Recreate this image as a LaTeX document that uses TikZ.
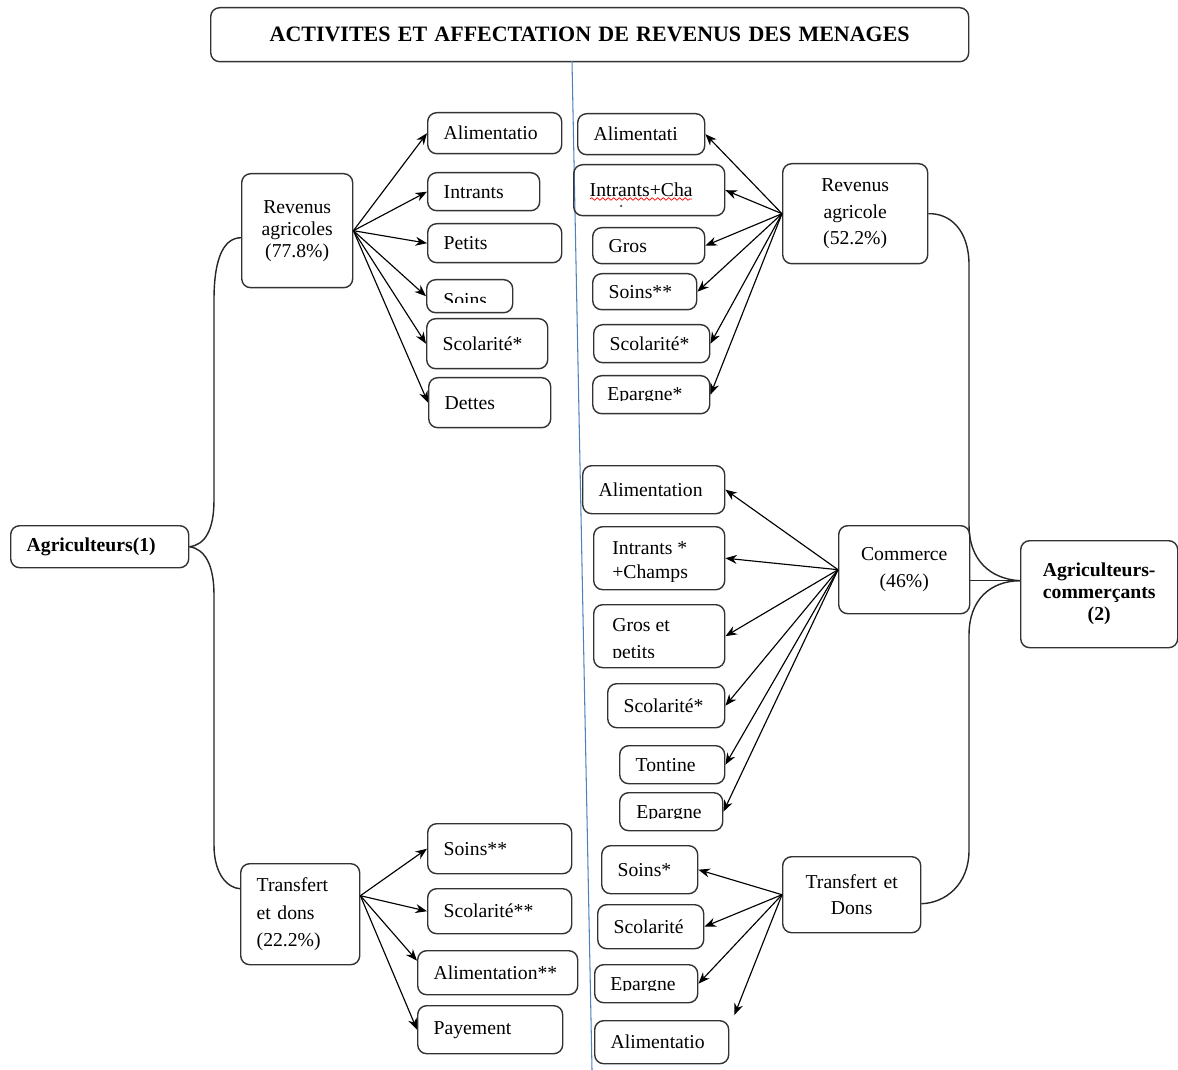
\documentclass[tikz,border=0pt]{standalone}
\usepackage{fontspec}
\setmainfont{Liberation Serif}
\usetikzlibrary{arrows.meta,decorations.pathmorphing}
\definecolor{sepblue}{RGB}{79,129,189}

\tikzset{
  box/.style={draw=black!80, line width=0.8pt, rounded corners=1.8mm,
    anchor=north west, inner xsep=3.2mm, inner ysep=0pt, align=left,
    font=\fontsize{11.2}{15}\selectfont},
  mid/.style={align=center},
  tight/.style={font=\fontsize{11.2}{12.5}\selectfont},
  wh/.code 2 args={%
    \pgfmathsetlengthmacro\boxw{#1*0.2mm-6.4mm}%
    \pgfmathsetlengthmacro\boxh{#2*0.2mm}%
    \edef\tmpwh{\noexpand\tikzset{text width=\boxw, minimum height=\boxh}}\tmpwh},
  txt/.style={anchor=base west, inner sep=0pt, font=\fontsize{11.2}{13}\selectfont},
  arr/.style={-{Stealth[length=2.3mm,width=1.8mm]}, line width=0.65pt},
  brace/.style={line width=0.8pt, black!85},
}

\begin{document}
\begin{tikzpicture}[x=0.2mm, y=-0.2mm]
  \useasboundingbox (0,0) rectangle (1178,1070);

  %% Title and separator
  \node[box, wh={758}{54}, mid, font=\fontsize{12.5}{15}\bfseries] (title) at (210,7)
    {ACTIVITES ET AFFECTATION DE REVENUS DES MENAGES};
  \draw[sepblue, line width=0.6pt] (572,61) -- (592,1070);

  %% ── Agriculteurs (1) ─────────────────────────────────────
  \node[box, wh={178}{42}, font=\fontsize{11.2}{15}\bfseries] (agr) at (10,525) {Agriculteurs(1)};
  \node[box, wh={111}{114}, mid, tight] (rag) at (241,173) {Revenus\\agricoles\\(77.8\%)};
  \node[box, wh={119}{101}, font=\fontsize{11.2}{15.9}\selectfont] (tdl) at (240,863)
    {Transfert\\et dons\\(22.2\%)};

  %% revenus agricoles
  \node[box, wh={134}{41}] (la1) at (427,112) {Alimentatio};
  \node[box, wh={112}{38}] (la2) at (427,172) {Intrants};
  \node[box, wh={134}{39}] (la3) at (427,223) {Petits};
  \node[box, wh={86}{33}]  (la4) at (426,279) {};
  \node[box, wh={121}{50}] (la5) at (426,318) {Scolarité*};
  \node[box, wh={122}{50}] (la6) at (428,377) {Dettes};
  \begin{scope}
    \clip (426,279) rectangle (512,303);
    \node[txt] (la4t) at (443,307) {Soins};
  \end{scope}

  %% transferts et dons
  \node[box, wh={144}{50}] (lb1) at (427,823) {Soins**};
  \node[box, wh={144}{45}] (lb2) at (427,888) {Scolarité**};
  \node[box, wh={160}{44}] (lb3) at (417,950) {Alimentation**};
  \node[box, wh={145}{48}] (lb4) at (417,1005) {Payement};

  \foreach \t in {la1,la2,la3,la4,la5,la6}
    \draw[arr] (rag.east) -- (\t.west);
  \foreach \t in {lb1,lb2,lb4}
    \draw[arr] ([yshift=3.7mm]tdl.east) -- (\t.west);
  \draw[arr] ([yshift=3.7mm]tdl.east) -- ([yshift=2.4mm]lb3.west);

  \draw[brace] (agr.east) .. controls (205,545) and (214,530) .. (214,500)
    -- (214,300) .. controls (214,255) and (225,238) .. ([yshift=-1.4mm]rag.west);
  \draw[brace] (agr.east) .. controls (205,549) and (214,565) .. (214,595)
    -- (214,845) .. controls (214,875) and (228,888) .. ([yshift=5.1mm]tdl.west);

  %% ── Agriculteurs-commerçants (2) ─────────────────────────
  \node[box, wh={157}{107}, mid, font=\fontsize{11.2}{12.5}\bfseries] (agc) at (1020,540)
    {Agriculteurs-\\commerçants\\(2)};
  \node[box, wh={145}{100}, mid] (rar) at (782,163) {Revenus\\agricole\\(52.2\%)};
  \node[box, wh={131}{88}, mid]  (com) at (838,525) {Commerce\\(46\%)};
  \node[box, wh={138}{76}, mid]  (tdr) at (782,856) {Transfert et\\Dons};

  %% revenus agricoles
  \node[box, wh={127}{41}] (ra1) at (577,113) {Alimentati};
  \node[box, wh={151}{51}] (ra2) at (573,164) {Intrants+Cha};
  \node[box, wh={112}{36}] (ra3) at (592,227) {Gros};
  \node[box, wh={104}{36}] (ra4) at (592,273) {Soins**};
  \node[box, wh={116}{38}] (ra5) at (593,324) {Scolarité*};
  \node[box, wh={117}{38}] (ra6) at (592,375) {};
  \draw[red, line width=0.4pt, decorate,
    decoration={snake, segment length=1.1mm, amplitude=0.25mm}] (590,199) -- (692,199);
  \fill[black!70] (621,206) circle (0.25mm);
  \begin{scope}
    \clip (592,375) rectangle (709,401);
    \node[txt] (ra6t) at (607,401) {Epargne*};
  \end{scope}

  %% commerce
  \node[box, wh={142}{48}] (rc1) at (582,465) {Alimentation};
  \node[box, wh={131}{63}] (rc2) at (593,526) {};
  \node[box, wh={131}{63}] (rc3) at (593,604) {};
  \node[box, wh={117}{44}] (rc4) at (607,683) {Scolarité*};
  \node[box, wh={105}{38}] (rc5) at (619,745) {Tontine};
  \node[box, wh={103}{38}] (rc6) at (619,792) {};
  \begin{scope}
    \clip (593,526) rectangle (724,581);
    \node[txt] (rc2a) at (612,554) {Intrants *};
    \node[txt] (rc2b) at (612,578) {+Champs};
  \end{scope}
  \begin{scope}
    \clip (593,604) rectangle (724,657);
    \node[txt] (rc3a) at (612,631) {Gros et};
    \node[txt] (rc3b) at (612,658) {petits};
  \end{scope}
  \begin{scope}
    \clip (619,792) rectangle (722,818);
    \node[txt] (rc6t) at (636,818) {Epargne};
  \end{scope}

  %% transfert et dons
  \node[box, wh={96}{48}]  (rd1) at (601,845) {Soins*};
  \node[box, wh={106}{44}] (rd2) at (597,904) {Scolarité};
  \node[box, wh={103}{38}] (rd3) at (594,964) {};
  \node[box, wh={134}{43}] (rd4) at (594,1020) {Alimentatio};
  \begin{scope}
    \clip (594,964) rectangle (697,990);
    \node[txt] (rd3t) at (610,990) {Epargne};
  \end{scope}

  \foreach \t in {ra1,ra2,ra3,ra4,ra5,ra6}
    \draw[arr] (rar.west) -- (\t.east);
  \foreach \t in {rc1,rc2,rc3,rc4,rc5,rc6}
    \draw[arr] (com.west) -- (\t.east);
  \foreach \t in {rd1,rd2,rd3}
    \draw[arr] (tdr.west) -- (\t.east);
  \draw[arr] (tdr.west) -- ([shift={(1mm,1mm)}]rd4.north east);

  \coordinate (acin) at ([yshift=2.7mm]agc.west);
  \draw[brace] (rar.east) .. controls (950,213) and (969,230) .. (969,265)
    -- (969,525) .. controls (969,560) and (990,579) .. (acin);
  \draw[brace] (acin) .. controls (990,581) and (969,600) .. (969,635)
    -- (969,850) .. controls (969,885) and (945,903) .. ([yshift=-1.8mm]tdr.east);
  \draw[brace] (com.east |- acin) -- (acin);
\end{tikzpicture}
\end{document}
